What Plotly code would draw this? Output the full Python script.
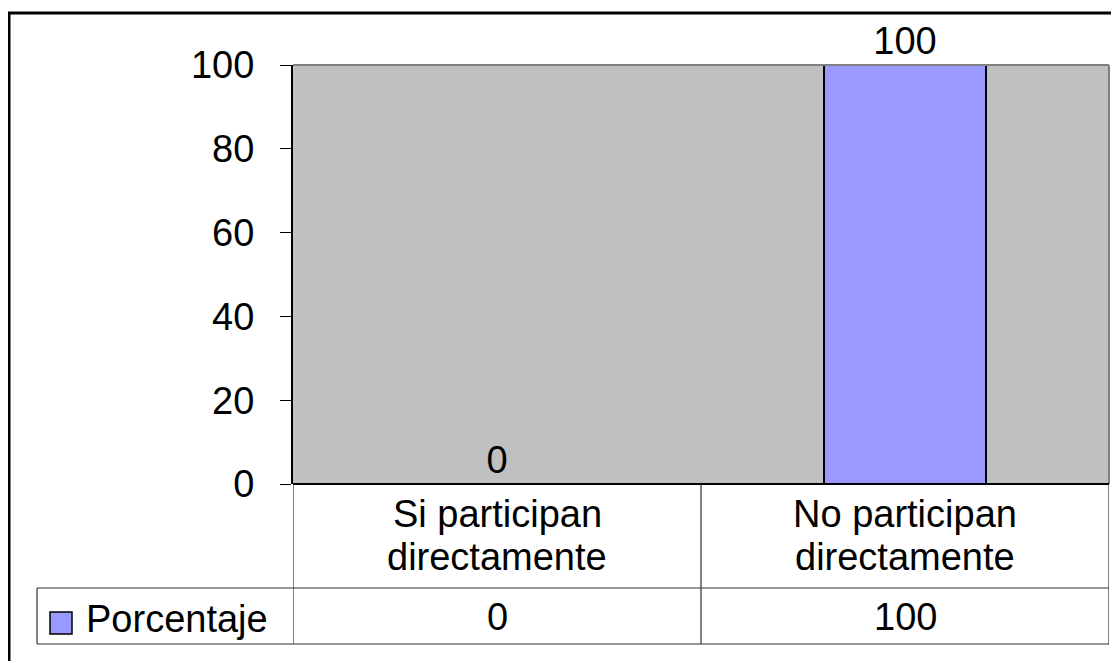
import plotly.graph_objects as go

categories = ["Si participan<br>directamente", "No participan<br>directamente"]
values = [0, 100]
series_name = "Porcentaje"
y_ticks = [0, 20, 40, 60, 80, 100]

FONT = "Liberation Sans, Arial, sans-serif"
FS = 38
BAR_COLOR = "#9999FF"

OFF = 8  # default page body margin
W, H = 1119 - OFF, 661 - OFF
L, R, T, B = 293 - OFF, 1109 - OFF, 65 - OFF, 484 - OFF  # plot area in figure pixels


def px(x):
    """page pixel x -> paper coordinate"""
    return (x - OFF - L) / (R - L)


def py(y):
    """page pixel y -> paper coordinate"""
    return (B - (y - OFF)) / (B - T)


xs = list(range(len(categories)))

fig = go.Figure()
fig.add_trace(go.Bar(
    x=xs, y=values, width=0.397,
    marker=dict(color=BAR_COLOR, line=dict(color="black", width=2)),
    text=[str(v) for v in values], textposition="outside",
    textfont=dict(family=FONT, size=FS, color="black"),
    cliponaxis=False, name=series_name, showlegend=False,
))

shapes = []
# outer chart border
shapes.append(dict(type="rect", xref="paper", yref="paper",
                   x0=px(9), x1=px(1135), y0=py(13), y1=py(690),
                   line=dict(color="black", width=3), fillcolor="rgba(0,0,0,0)", layer="below"))
# plot area top/right border (gray)
shapes.append(dict(type="line", xref="paper", yref="paper", x0=0, x1=1, y0=1, y1=1,
                   line=dict(color="#808080", width=2)))
shapes.append(dict(type="line", xref="paper", yref="paper", x0=1, x1=1, y0=0, y1=1,
                   line=dict(color="#808080", width=2)))

# data table lines
line_c = "#303030"
table_y_mid = py(588)
table_y_bot = py(644)
shapes.append(dict(type="line", xref="paper", yref="paper", x0=0, x1=1, y0=0, y1=0,
                   line=dict(color="black", width=2)))
shapes.append(dict(type="line", xref="paper", yref="paper", x0=px(37), x1=1, y0=table_y_mid, y1=table_y_mid,
                   line=dict(color=line_c, width=1.2)))
shapes.append(dict(type="line", xref="paper", yref="paper", x0=px(37), x1=1, y0=table_y_bot, y1=table_y_bot,
                   line=dict(color=line_c, width=1.2)))
for xv in [-0.5, 0.5, 1.5]:
    shapes.append(dict(type="line", xref="x", yref="paper", x0=xv, x1=xv, y0=0, y1=table_y_bot,
                       line=dict(color=line_c, width=1.2)))
shapes.append(dict(type="line", xref="paper", yref="paper", x0=px(37), x1=px(37), y0=table_y_mid, y1=table_y_bot,
                   line=dict(color=line_c, width=1.2)))
# legend swatch
shapes.append(dict(type="rect", xref="paper", yref="paper",
                   x0=px(50), x1=px(72), y0=py(634), y1=py(612),
                   fillcolor=BAR_COLOR, line=dict(color="black", width=1.5)))

annotations = []
line_centers = [514, 557]
for i, c in enumerate(categories):
    for yc, part in zip(line_centers, c.split("<br>")):
        annotations.append(dict(x=i, y=py(yc), xref="x", yref="paper", text=part, showarrow=False,
                                font=dict(family=FONT, size=FS, color="black"),
                                xanchor="center", yanchor="middle"))
    annotations.append(dict(x=i, y=py(617), xref="x", yref="paper", text=str(values[i]), showarrow=False,
                            font=dict(family=FONT, size=FS, color="black"),
                            xanchor="center", yanchor="middle"))
annotations.append(dict(x=px(84), y=py(619), xref="paper", yref="paper", text=series_name, showarrow=False,
                        font=dict(family=FONT, size=FS, color="black"),
                        xanchor="left", yanchor="middle"))

fig.update_layout(
    width=W, height=H,
    margin=dict(l=L, r=W - R, t=T, b=H - B, pad=0),
    paper_bgcolor="white", plot_bgcolor="#C0C0C0",
    font=dict(family=FONT, size=FS, color="black"),
    showlegend=False,
    xaxis=dict(range=[-0.5, 1.5], showticklabels=False, showgrid=False, zeroline=False,
               showline=False, ticks=""),
    yaxis=dict(range=[0, 100], tickvals=y_ticks, ticks="outside", ticklen=11, tickcolor="black",
               tickwidth=1, showline=True, linecolor="black", linewidth=2, showgrid=False,
               zeroline=False, ticklabelstandoff=18,
               tickfont=dict(family=FONT, size=FS, color="black")),
    shapes=shapes, annotations=annotations,
    bargap=0.6,
)

fig.write_html("out.html")
